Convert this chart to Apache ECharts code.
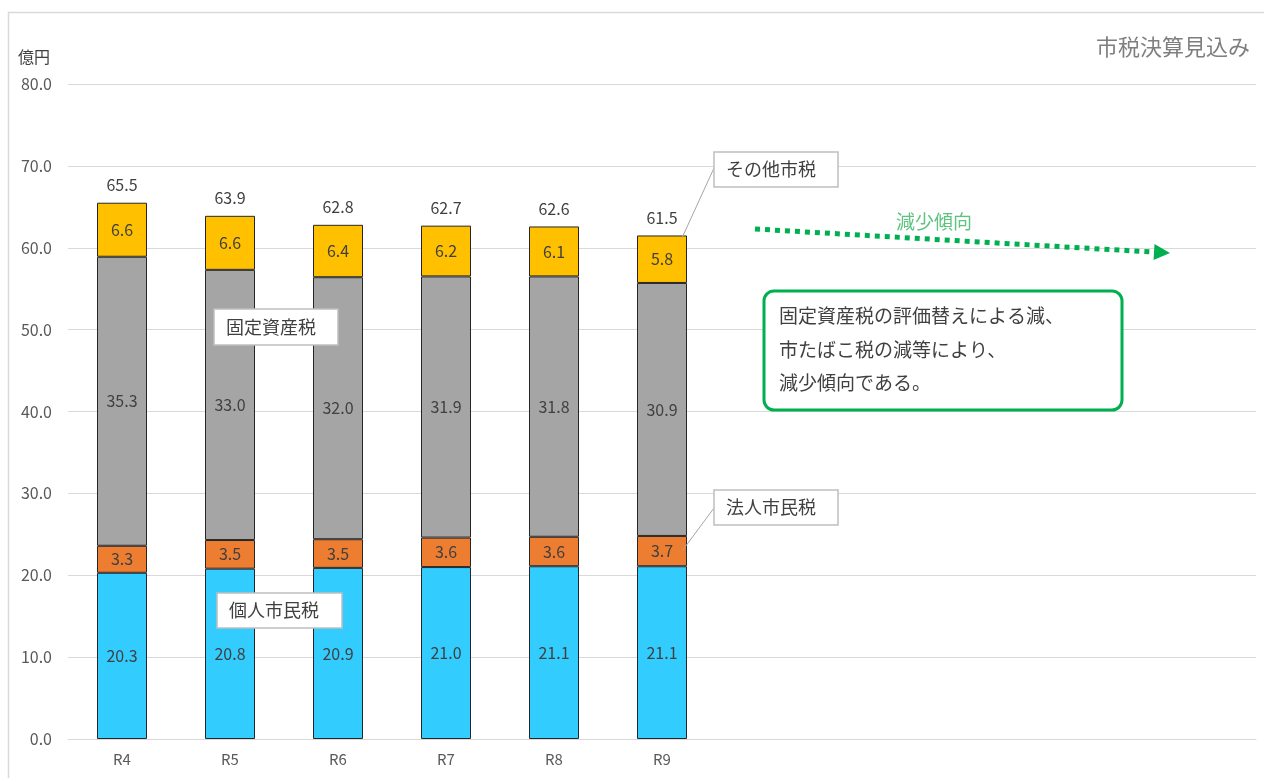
<!DOCTYPE html>
<html>
<head>
<meta charset="utf-8">
<script src="https://cdn.jsdelivr.net/npm/echarts@6.0.0/dist/echarts.min.js"></script>
<style>
  html, body { margin: 0; padding: 0; background: #fff; }
  #chart { width: 1264px; height: 778px; }
</style>
</head>
<body>
<div id="chart"></div>
<script>
// 年度（右側は注記用の空き区間）
const years = ['R4', 'R5', 'R6', 'R7', 'R8', 'R9', '', '', '', '', ''];
// 税目別（億円）
const kojinShiminzei = [20.3, 20.8, 20.9, 21.0, 21.1, 21.1];
const hojinShiminzei = [3.3, 3.5, 3.5, 3.6, 3.6, 3.7];
const koteiShisanzei = [35.3, 33.0, 32.0, 31.9, 31.8, 30.9];
const sonotaShizei = [6.6, 6.6, 6.4, 6.2, 6.1, 5.8];
const totals = [65.5, 63.9, 62.8, 62.7, 62.6, 61.5];
const yTicks = [0, 10, 20, 30, 40, 50, 60, 70, 80];

const FONT = '"Noto Sans CJK JP", "Noto Sans", sans-serif';
const chart = echarts.init(document.getElementById('chart'));

function barSeries(name, data, color) {
  return {
    name: name,
    type: 'bar',
    stack: 'tax',
    barWidth: 50,
    data: data,
    itemStyle: { color: color, borderColor: '#262626', borderWidth: 1 },
    label: {
      show: true,
      position: 'inside',
      formatter: p => p.value.toFixed(1),
      color: '#404040',
      fontSize: 16,
      fontFamily: FONT
    },
    emphasis: { disabled: true },
    z: 3
  };
}

chart.setOption({
  animation: false,
  backgroundColor: '#ffffff',
  grid: { left: 68, right: 8, top: 84, bottom: 39, containLabel: false },
  xAxis: {
    type: 'category',
    data: years,
    axisLine: { lineStyle: { color: '#d9d9d9', width: 1 } },
    axisTick: { show: false },
    axisLabel: { color: '#595959', fontSize: 15, fontFamily: FONT, margin: 13 }
  },
  yAxis: {
    type: 'value',
    min: yTicks[0],
    max: yTicks[yTicks.length - 1],
    interval: 10,
    axisLine: { show: false },
    axisTick: { show: false },
    splitLine: { lineStyle: { color: '#d9d9d9', width: 1 } },
    axisLabel: {
      color: '#595959', fontSize: 16, fontFamily: FONT, margin: 16,
      formatter: v => v.toFixed(1)
    }
  },
  series: [
    barSeries('個人市民税', kojinShiminzei, '#33ccff'),
    barSeries('法人市民税', hojinShiminzei, '#ed7d31'),
    barSeries('固定資産税', koteiShisanzei, '#a5a5a5'),
    barSeries('その他市税', sonotaShizei, '#ffc000'),
    {
      name: '合計',
      type: 'line',
      data: totals,
      symbol: 'circle',
      symbolSize: 1,
      showSymbol: true,
      itemStyle: { color: 'rgba(0,0,0,0)' },
      lineStyle: { opacity: 0 },
      label: {
        show: true,
        position: 'top',
        distance: 9,
        formatter: p => p.value.toFixed(1),
        color: '#404040',
        fontSize: 16,
        fontFamily: FONT
      },
      emphasis: { disabled: true },
      z: 4
    }
  ]
});

// 注記（凡例ボックス・引出線・矢印・説明枠）
function labelBox(x, y, w, h, text) {
  return [
    { type: 'rect', z: 100, shape: { x: x, y: y, width: w, height: h },
      style: { fill: '#ffffff', stroke: '#bfbfbf', lineWidth: 1.5 } },
    { type: 'text', z: 101, x: x + 12, y: y + h / 2,
      style: { text: text, fill: '#404040', font: '18px ' + FONT, textVerticalAlign: 'middle' } }
  ];
}

const last = years.indexOf('R9');
const pOther = chart.convertToPixel({ gridIndex: 0 }, [last, totals[last] - 0.3]);
const pHojin = chart.convertToPixel({ gridIndex: 0 },
  [last, kojinShiminzei[last] + hojinShiminzei[last] * 0.5]);

const arrowStart = [755, 229];
const arrowEnd = [1170, 253];
const ang = Math.atan2(arrowEnd[1] - arrowStart[1], arrowEnd[0] - arrowStart[0]);
const headLen = 16, headW = 8;
const bx = arrowEnd[0] - headLen * Math.cos(ang), by = arrowEnd[1] - headLen * Math.sin(ang);
const nx = -Math.sin(ang), ny = Math.cos(ang);

chart.setOption({
  graphic: [
    // 外枠
    { type: 'rect', shape: { x: 8.5, y: 12.5, width: 1300, height: 800 },
      style: { fill: 'none', stroke: '#d9d9d9', lineWidth: 1.5 }, z: 0, silent: true },
    { type: 'text', x: 18, y: 57,
      style: { text: '億円', fill: '#404040', font: '16px ' + FONT, textVerticalAlign: 'middle' } },
    { type: 'text', x: 1250, y: 47,
      style: { text: '市税決算見込み', fill: '#7f7f7f', font: '22px ' + FONT,
               textAlign: 'right', textVerticalAlign: 'middle' } },
    // 引出線
    { type: 'line', z: 99, shape: { x1: 714, y1: 168, x2: pOther[0] + 20, y2: pOther[1] },
      style: { stroke: '#a6a6a6', lineWidth: 1 } },
    { type: 'line', z: 99, shape: { x1: 714, y1: 508, x2: pHojin[0] + 20, y2: pHojin[1] },
      style: { stroke: '#a6a6a6', lineWidth: 1 } },
    ...labelBox(714, 152, 124, 35, 'その他市税'),
    ...labelBox(214, 309, 124, 36, '固定資産税'),
    ...labelBox(217, 593, 125, 35, '個人市民税'),
    ...labelBox(714, 490, 124, 35, '法人市民税'),
    // 減少傾向の矢印
    { type: 'line', z: 99, shape: { x1: arrowStart[0], y1: arrowStart[1], x2: bx, y2: by },
      style: { stroke: '#00b050', lineWidth: 5, lineDash: [5, 5] } },
    { type: 'polygon', z: 99,
      shape: { points: [arrowEnd, [bx + nx * headW, by + ny * headW], [bx - nx * headW, by - ny * headW]] },
      style: { fill: '#00b050' } },
    { type: 'text', x: 934, y: 222, z: 99,
      style: { text: '減少傾向', fill: '#5cc47f', font: '19px ' + FONT,
               textAlign: 'center', textVerticalAlign: 'middle' } },
    // 説明枠
    { type: 'rect', z: 99, shape: { x: 764, y: 291, width: 358, height: 119, r: 10 },
      style: { fill: '#ffffff', stroke: '#00b050', lineWidth: 3 } },
    { type: 'text', x: 779, y: 316, z: 100,
      style: { text: '固定資産税の評価替えによる減、', fill: '#404040', font: '19px ' + FONT, textVerticalAlign: 'middle' } },
    { type: 'text', x: 779, y: 350, z: 100,
      style: { text: '市たばこ税の減等により、', fill: '#404040', font: '19px ' + FONT, textVerticalAlign: 'middle' } },
    { type: 'text', x: 779, y: 383, z: 100,
      style: { text: '減少傾向である。', fill: '#404040', font: '19px ' + FONT, textVerticalAlign: 'middle' } }
  ]
});
</script>
</body>
</html>
